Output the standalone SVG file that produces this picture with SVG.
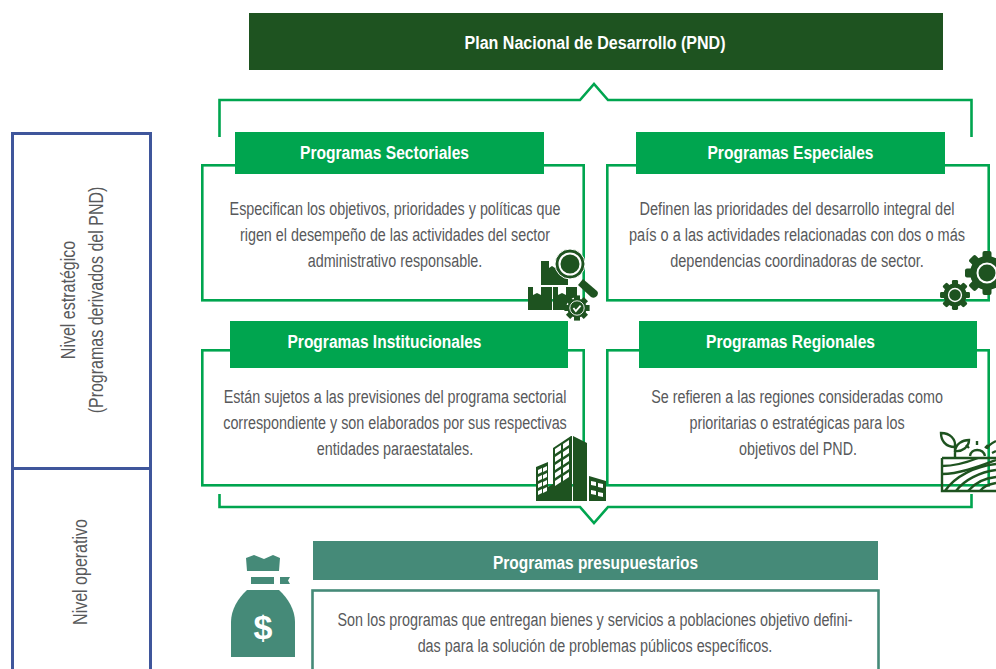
<svg xmlns="http://www.w3.org/2000/svg" width="996" height="669" viewBox="0 0 996 669">
<style>
text{font-family:"Liberation Sans","Noto Sans",sans-serif}
.h{font-size:18px;font-weight:700;fill:#fff;text-anchor:middle}
.b{font-size:19px;fill:#58595b;text-anchor:middle}
.v{font-size:20px;fill:#58595b;text-anchor:middle}
.g{fill:#00a54f}
.box{fill:none;stroke:#00a54f;stroke-width:2.600}
.lvl{fill:none;stroke:#3f569b;stroke-width:3}
.dk{fill:#1e5320}
.teal{fill:#458a78}
</style>
<defs>
<g id="gear">
<circle r="17" fill="#1e5320"/>
<g fill="#1e5320">
<rect x="-4.500" y="-22" width="9" height="44" rx="2"/>
<rect x="-4.500" y="-22" width="9" height="44" rx="2" transform="rotate(45)"/>
<rect x="-4.500" y="-22" width="9" height="44" rx="2" transform="rotate(90)"/>
<rect x="-4.500" y="-22" width="9" height="44" rx="2" transform="rotate(135)"/>
</g>
<circle r="9.500" fill="#1e5320" stroke="#fff" stroke-width="2"/>
</g>
</defs>
<rect width="996" height="669" fill="#fff"/>
<g id="levels">
<g id="nivel-estrategico"><rect class="lvl" x="12.500" y="133.500" width="138" height="335"/>
<text class="v" transform="translate(75,300) rotate(-90) scale(.8,1)">Nivel estratégico</text>
<text class="v" transform="translate(103,300) rotate(-90) scale(.8,1)">(Programas derivados del PND)</text></g>
<g id="nivel-operativo"><rect class="lvl" x="12.500" y="468.500" width="138" height="215"/>
<text class="v" transform="translate(87,572) rotate(-90) scale(.8,1)">Nivel operativo</text></g>
</g>
<g id="connectors" fill="none" stroke="#00a54f" stroke-width="2.600">
<path d="M219.500 137V100H580L594 84L608 100H971.500V137"/>
<path d="M219.500 494V507H580L594 523L608 507H971.500V494"/>
</g>
<g id="pnd"><rect x="249" y="13" width="694" height="57" class="dk"/><text class="h" x="595" y="49" textLength="261" lengthAdjust="spacingAndGlyphs">Plan Nacional de Desarrollo (PND)</text></g>
<g id="sectoriales">
<rect class="box" x="202.300" y="165.300" width="381.400" height="135"/>
<rect class="g" x="235" y="132" width="309" height="42"/>
<text class="h" x="384.500" y="159" textLength="169" lengthAdjust="spacingAndGlyphs">Programas Sectoriales</text>
<text class="b" transform="translate(395,215) scale(.755,1)">Especifican los objetivos, prioridades y políticas que</text>
<text class="b" transform="translate(395,241) scale(.755,1)">rigen el desempeño de las actividades del sector</text>
<text class="b" transform="translate(395,267) scale(.755,1)">administrativo responsable.</text>
<g class="dk">
<rect x="541" y="261" width="27" height="24"/>
<rect x="528" y="287" width="24" height="23"/><rect x="553" y="287" width="24" height="23"/>
<path d="M583 279L597 291C600 294 595 300 591 297L578 285Z"/>
</g>
<circle cx="570" cy="264" r="15" fill="#1e5320" stroke="#fff" stroke-width="1"/>
<circle cx="570" cy="264" r="10.500" fill="#1e5320" stroke="#fff" stroke-width="2"/>
<path d="M533 287v8l4-2 4 2v-8M558 287v8l4-2 4 2v-8M549 261v7l3-2 3 2v-7" fill="#fff"/>
<g transform="translate(577,308) scale(.6)"><circle r="17" fill="#1e5320" stroke="#fff" stroke-width="2"/>
<g fill="#1e5320"><rect x="-5" y="-21" width="10" height="42"/><rect x="-5" y="-21" width="10" height="42" transform="rotate(45)"/><rect x="-5" y="-21" width="10" height="42" transform="rotate(90)"/><rect x="-5" y="-21" width="10" height="42" transform="rotate(135)"/></g>
<circle r="12" fill="#1e5320" stroke="#fff" stroke-width="1.500"/>
<path d="M-6 0l4 5 8-9" fill="none" stroke="#fff" stroke-width="3"/></g>
</g>
<g id="especiales">
<rect class="box" x="607.300" y="165.300" width="381.400" height="135"/>
<rect class="g" x="636" y="132" width="309" height="42"/>
<text class="h" x="790.500" y="159" textLength="166" lengthAdjust="spacingAndGlyphs">Programas Especiales</text>
<text class="b" transform="translate(797,215) scale(.765,1)">Definen las prioridades del desarrollo integral del</text>
<text class="b" transform="translate(797,241) scale(.765,1)">país o a las actividades relacionadas con dos o más</text>
<text class="b" transform="translate(797,267) scale(.765,1)">dependencias coordinadoras de sector.</text>
<use href="#gear" transform="translate(987,273)"/>
<use href="#gear" transform="translate(955,295) scale(.68)"/>
</g>
<g id="institucionales">
<rect class="box" x="202.300" y="350.300" width="381.400" height="135"/>
<rect class="g" x="230" y="321" width="338" height="47"/>
<text class="h" x="384.500" y="348" textLength="194" lengthAdjust="spacingAndGlyphs">Programas Institucionales</text>
<text class="b" transform="translate(395,403) scale(.755,1)">Están sujetos a las previsiones del programa sectorial</text>
<text class="b" transform="translate(395,429) scale(.755,1)">correspondiente y son elaborados por sus respectivas</text>
<text class="b" transform="translate(395,455) scale(.755,1)">entidades paraestatales.</text>
<g class="dk">
<path d="M553 448L571 436H572V501H536V467L548 462V487L553 484Z"/>
<path d="M573 436L587 443V501H573Z"/>
<path d="M589 476L606 481V501H589Z"/>
</g>
<g fill="#fff">
<path d="M555 449l6-4v5l-6 4zM563 444l6-4v5l-6 4zM555 457l6-4v5l-6 4zM563 452l6-4v5l-6 4zM555 465l6-4v5l-6 4zM563 460l6-4v5l-6 4zM555 473l6-4v5l-6 4zM563 468l6-4v5l-6 4zM555 481l6-4v5l-6 4zM563 476l6-4v5l-6 4z"/>
<path d="M538 470l4-2v4l-4 2zM543 468l4-2v4l-4 2zM538 477l4-2v4l-4 2zM543 475l4-2v4l-4 2zM538 484l4-2v4l-4 2zM543 482l4-2v4l-4 2zM538 491l4-2v4l-4 2zM543 489l4-2v4l-4 2z"/>
<path d="M591 481l5 1v4l-5-1zM598 483l5 1v4l-5-1zM591 490l5 1v4l-5-1zM598 492l5 1v4l-5-1z"/>
</g>
</g>
<g id="regionales">
<rect class="box" x="607.300" y="350.300" width="381.400" height="135"/>
<rect class="g" x="639" y="321" width="338" height="47"/>
<text class="h" x="790.500" y="348" textLength="169" lengthAdjust="spacingAndGlyphs">Programas Regionales</text>
<text class="b" transform="translate(797,403) scale(.755,1)">Se refieren a las regiones consideradas como</text>
<text class="b" transform="translate(797,429) scale(.755,1)">prioritarias o estratégicas para los</text>
<text class="b" transform="translate(798,455) scale(.755,1)">objetivos del PND.</text>
<g fill="none" stroke="#1e5320" stroke-width="2.400">
<path d="M942 458H996M942 458V491H996"/>
<path d="M942 466C956 466 968 462 978 458M942 474C960 474 980 466 996 460"/>
<path d="M945 491C955 476 976 466 996 464M956 491C964 480 980 472 996 470M968 491C974 484 984 478 996 477M980 491C983 487 990 484 996 483"/>
<path d="M955 458V444M955 447C945 447 941 440 941 433C950 433 956 439 955 447ZM955 451C956 444 962 440 969 440C969 447 962 452 955 451Z"/>
<path d="M970 456C971 448 983 448 985 456M977 445V441M969 448L966 445M985 448L988 445M992 453L996 451M996 441C992 443 988 445 987 449"/>
</g>
</g>
<g id="presupuestarios">
<rect class="teal" x="313" y="541" width="565" height="39"/>
<text class="h" x="595.500" y="569" textLength="205" lengthAdjust="spacingAndGlyphs">Programas presupuestarios</text>
<rect x="312.500" y="590.500" width="566" height="100" fill="none" stroke="#458a78" stroke-width="2.600"/>
<text class="b" transform="translate(595,626) scale(.755,1)">Son los programas que entregan bienes y servicios a poblaciones objetivo defini-</text>
<text class="b" transform="translate(595,652) scale(.755,1)">das para la solución de problemas públicos específicos.</text>
<g class="teal">
<path d="M246 558L254 555L264 559L273 555L280 558L279 571H247Z"/>
<rect x="251" y="577" width="23" height="7"/>
<path d="M280 577H290L288 580.500L290 584H280Z"/>
<path d="M247 590H279C288 598 295 610 295 622V657H231V622C231 610 238 598 247 590Z"/>
</g>
<text x="263" y="639" text-anchor="middle" style="font-size:34px;font-weight:700;fill:#fff">$</text>
</g>
</svg>
